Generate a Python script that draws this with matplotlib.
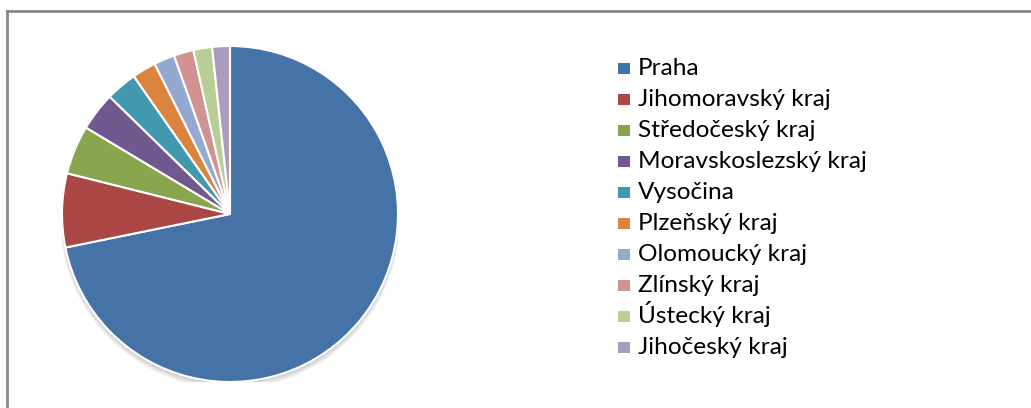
import matplotlib.pyplot as plt
from matplotlib.patches import Circle, Rectangle
from matplotlib.lines import Line2D

regions = ['Praha', 'Jihomoravský kraj', 'Středočeský kraj', 'Moravskoslezský kraj',
           'Vysočina', 'Plzeňský kraj', 'Olomoucký kraj', 'Zlínský kraj',
           'Ústecký kraj', 'Jihočeský kraj']
shares = [71.8, 7.1, 4.7, 3.7, 3.0, 2.3, 2.0, 1.9, 1.8, 1.7]
colors = ['#4572A7', '#AA4643', '#89A54E', '#71588F', '#4198AF',
          '#DB843D', '#93A9CF', '#D19392', '#B9CD96', '#A99BBD']

plt.rcParams['font.family'] = ['Lato', 'DejaVu Sans']

W, H = 1031, 408
fig = plt.figure(figsize=(W / 100, H / 100), dpi=100)

# chart frame (only top and left edges visible)
fig.add_artist(Line2D([7 / W, 7 / W], [0, 1 - 11 / H], color='#888888', lw=2,
                      transform=fig.transFigure))
fig.add_artist(Line2D([7 / W, 1], [1 - 11 / H, 1 - 11 / H], color='#888888', lw=2,
                      transform=fig.transFigure))

cx, cy, r = 230, 214, 168
ax = fig.add_axes([(cx - r) / W, (H - cy - r) / H, 2 * r / W, 2 * r / H])

# soft shadow under the pie
for i in range(4):
    ax.add_patch(Circle((0, -0.012 - 0.006 * i), 1.0 + 0.004 * i, color='black',
                        alpha=0.05, lw=0, zorder=0))

wedges, _ = ax.pie(shares, colors=colors, startangle=90, counterclock=False,
                   radius=1.0, wedgeprops=dict(edgecolor='white', linewidth=1.5))
for w in wedges:
    w.set_zorder(2)
ax.set_xlim(-1.0, 1.0)
ax.set_ylim(-1.0, 1.0)
ax.set_aspect('equal')
ax.axis('off')

# legend, evenly spaced rows like the original
row0, step, box = 68.5, 31, 11.5
for i, (name, c) in enumerate(zip(regions, colors)):
    yc = row0 + step * i
    fig.add_artist(Rectangle((618 / W, (H - yc - box / 2) / H), box / W, box / H,
                             facecolor=c, edgecolor='none', transform=fig.transFigure))
    fig.text(638 / W, (H - yc - 6.5) / H, name, fontsize=17.6, va='baseline',
             ha='left', color='black')

plt.savefig('out.png', dpi=100)
